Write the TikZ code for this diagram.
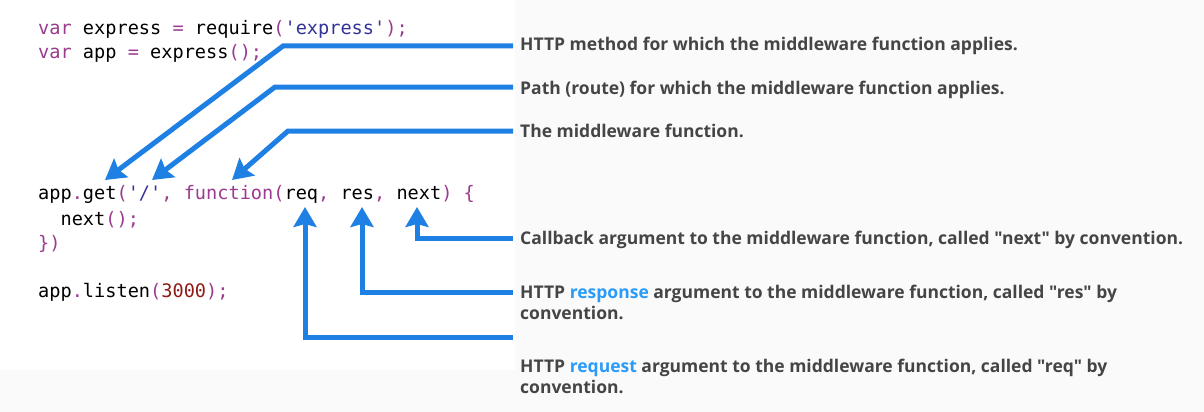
\documentclass[tikz,border=0pt]{standalone}
\usepackage{fontspec}
\setmainfont{Open Sans}[Ligatures=TeXOff]
\newfontfamily\codefont{DejaVu Sans Mono}[Ligatures=TeXOff]
\usetikzlibrary{arrows.meta}
\definecolor{Arrow}{HTML}{1F80E4}
\definecolor{Label}{HTML}{454545}
\definecolor{Accent}{HTML}{2A9BF8}
\definecolor{Keyword}{HTML}{9B3A8F}
\definecolor{String}{HTML}{33339A}
\definecolor{Number}{HTML}{8E1D17}
\definecolor{Page}{HTML}{FAFAFA}
\newcommand\kwd[1]{\textcolor{Keyword}{#1}}
\newcommand\strg[1]{\textcolor{String}{#1}}
\newcommand\numb[1]{\textcolor{Number}{#1}}
\newcommand\hilite[1]{\textcolor{Accent}{#1}}

\begin{document}
\begin{tikzpicture}[
 x=1pt,y=-1pt,
 code/.style={anchor=base west,inner sep=0pt,font=\codefont\fontsize{18.6}{24}\selectfont,text=black},
 lbl/.style={anchor=west,inner xsep=7pt,inner ysep=0pt,font=\bfseries\fontsize{17.5}{21}\selectfont,text=Label,align=left},
 a/.style={-{Stealth[length=20pt,width=23pt,inset=3pt]},line width=5pt,draw=Arrow}
]
\fill[Page] (0,0) rectangle (1204,412);
\fill[white] (0,0) rectangle (515,370);
% code
\node[code] (c1) at (38,35) {\kwd{var} express \kwd{=} require\kwd{(}\strg{'express'}\kwd{);}};
\node[code] (c2) at (38,59) {\kwd{var} app \kwd{=} express\kwd{();}};
\node[code] (c4) at (38,199) {app\kwd{.}get\kwd{(}\strg{'/'}\kwd{, function(}req\kwd{,} res\kwd{,} next\kwd{) \{}};
\node[code] (c5) at (38,225) {\phantom{xx}next\kwd{();}};
\node[code] (c6) at (38,249) {\kwd{\})}};
\node[code] (c8) at (38,297) {app\kwd{.}listen\kwd{(}\numb{3000}\kwd{);}};
% where the arrows point
\coordinate (getpt) at (105,180);
\coordinate (pathpt) at (152,180);
\coordinate (funcpt) at (232,180);
\coordinate (reqpt) at (305,207);
\coordinate (respt) at (362,207);
\coordinate (nextpt) at (417,207);
\coordinate (k1) at (283,46);
\coordinate (k2) at (275,87);
\coordinate (k3) at (288,131);
% labels
\node[lbl] (lmethod) at (513,46) {HTTP method for which the middleware function applies.};
\node[lbl] (lpath) at (513,90) {Path (route) for which the middleware function applies.};
\node[lbl] (lfunc) at (513,131) {The middleware function.};
\node[lbl] (lnext) at (513,240) {Callback argument to the middleware function, called "next" by convention.};
\node[lbl,anchor=north west] (lres) at (513,285) {HTTP \hilite{response} argument to the middleware function, called "res" by\\convention.};
\node[lbl,anchor=north west] (lreq) at (513,359) {HTTP \hilite{request} argument to the middleware function, called "req" by\\convention.};
% arrows
\draw[a] (lmethod.west)--(k1)--(getpt);
\draw[a] ([yshift=3pt]lpath.west)--(k2)--(pathpt);
\draw[a] (lfunc.west)--(k3)--(funcpt);
\draw[a] ([yshift=2pt]lnext.west) -| (nextpt);
\draw[a] ([yshift=-7pt]lres.north west) -| (respt);
\draw[a] ([yshift=22pt]lreq.north west) -| (reqpt);
\end{tikzpicture}
\end{document}
